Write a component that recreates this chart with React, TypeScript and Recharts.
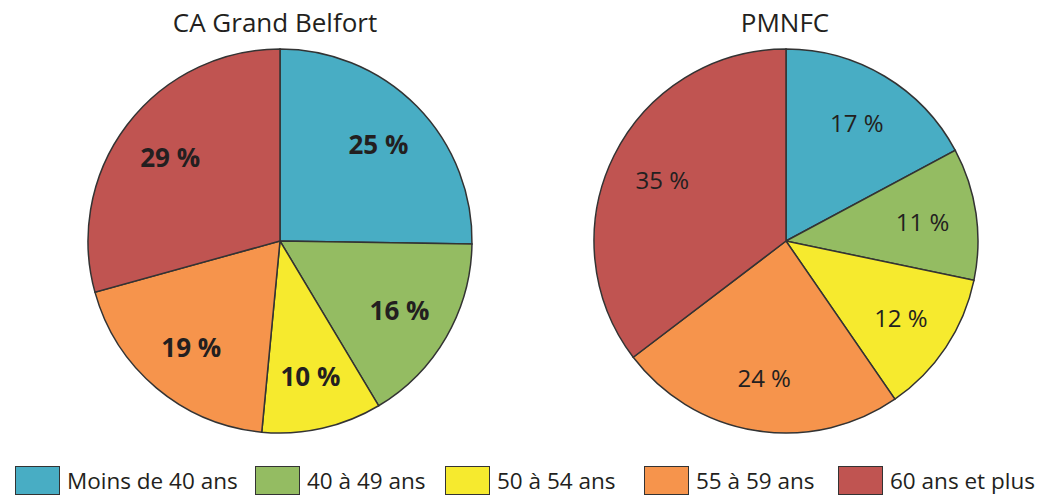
import { PieChart, Pie, Cell } from "recharts";

const categories = [
  "Moins de 40 ans",
  "40 à 49 ans",
  "50 à 54 ans",
  "55 à 59 ans",
  "60 ans et plus",
];
const belfortValues = [25, 16, 10, 19, 29];
const pmnfcValues = [17, 11, 12, 24, 35];
const titles = ["CA Grand Belfort", "PMNFC"];

const colors = ["#48adc4", "#94bc62", "#f6ea2e", "#f6944c", "#c05451"];
const legendX = [15, 255, 445, 644, 838];
const FONT = "'Open Sans', 'Noto Sans', sans-serif";
const RAD = Math.PI / 180;

const belfortData = categories.map((name, i) => ({ name, value: belfortValues[i] }));
const pmnfcData = categories.map((name, i) => ({ name, value: pmnfcValues[i] }));

function makeLabel(bold: boolean) {
  return (props: any) => {
    const { cx, cy, midAngle, value } = props;
    const r = 138;
    const x = cx + r * Math.cos(-midAngle * RAD);
    const y = cy + r * Math.sin(-midAngle * RAD);
    return (
      <text
        x={x}
        y={y}
        textAnchor="middle"
        dominantBaseline="central"
        fill="#231f20"
        fontSize={bold ? 26 : 24}
        fontWeight={bold ? 700 : 400}
        fontFamily={FONT}
      >
        {`${value} %`}
      </text>
    );
  };
}

function LegendRow() {
  return (
    <div style={{ fontFamily: FONT, fontSize: 22.5, color: "#231f20" }}>
      {categories.map((c, i) => (
        <div
          key={c}
          style={{
            position: "absolute",
            left: legendX[i],
            top: 466,
            height: 29,
            display: "flex",
            alignItems: "center",
            whiteSpace: "nowrap",
          }}
        >
          <span
            style={{
              display: "inline-block",
              width: 43,
              height: 27,
              background: colors[i],
              border: "1.5px solid #333",
              marginRight: 7,
            }}
          />
          <span>{c}</span>
        </div>
      ))}
    </div>
  );
}

export default function App() {
  return (
    <div style={{ position: "absolute", left: 0, top: 0, width: 1048, height: 500, background: "#fff" }}>
      <PieChart width={1048} height={460} margin={{ top: 0, right: 0, bottom: 0, left: 0 }}>
        <text x={275} y={22} textAnchor="middle" dominantBaseline="central" fontSize={26} fontFamily={FONT} fill="#231f20">
          {titles[0]}
        </text>
        <text x={785} y={22} textAnchor="middle" dominantBaseline="central" fontSize={26} fontFamily={FONT} fill="#231f20">
          {titles[1]}
        </text>
        <Pie
          data={belfortData}
          dataKey="value"
          cx={280}
          cy={241}
          outerRadius={192}
          startAngle={90}
          endAngle={-270}
          stroke="#333"
          strokeWidth={1.5}
          labelLine={false}
          label={makeLabel(true)}
          isAnimationActive={false}
        >
          {belfortData.map((d, i) => (
            <Cell key={d.name} fill={colors[i]} />
          ))}
        </Pie>
        <Pie
          data={pmnfcData}
          dataKey="value"
          cx={786}
          cy={241}
          outerRadius={192}
          startAngle={90}
          endAngle={-270}
          stroke="#333"
          strokeWidth={1.5}
          labelLine={false}
          label={makeLabel(false)}
          isAnimationActive={false}
        >
          {pmnfcData.map((d, i) => (
            <Cell key={d.name} fill={colors[i]} />
          ))}
        </Pie>
      </PieChart>
      <LegendRow />
    </div>
  );
}
